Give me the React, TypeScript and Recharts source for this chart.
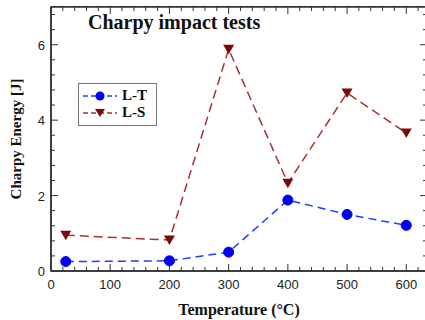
import { LineChart, Line, XAxis, YAxis, ReferenceArea } from 'recharts';

const temperatures = [25, 200, 300, 400, 500, 600];
const ltEnergy = [0.25, 0.27, 0.5, 1.88, 1.5, 1.21];
const lsEnergy = [0.95, 0.82, 5.88, 2.33, 4.72, 3.66];

const xTicks = Array.from({ length: 32 }, (_, i) => i * 20);
const yTicks = Array.from({ length: 18 }, (_, i) => Math.round(i * 4) / 10);
const xLabels = [0, 100, 200, 300, 400, 500, 600];
const yLabels = [0, 2, 4, 6];

const LT_COLOR = '#1f3cff';
const LT_MARKER = '#0000ee';
const LS_COLOR = '#a83232';
const LS_MARKER = '#7a0a0a';
const AXIS = '#333';

// chart layout (plot box = 51..427 x 7..271)
const CHART_W = 428;
const CHART_H = 320;
const MARGIN = { top: 7, right: 1, left: 0, bottom: 0 };
const X_AXIS_H = 49;
const Y_AXIS_W = 51;
const PLOT_W = CHART_W - MARGIN.right - Y_AXIS_W;
const PLOT_H = CHART_H - MARGIN.top - X_AXIS_H;

const data = temperatures.map((t, i) => ({ t, lt: ltEnergy[i], ls: lsEnergy[i] }));

const tickFont = { fontFamily: 'Liberation Sans, Arial, sans-serif', fontSize: 13, fill: '#222' };
const serif = 'Liberation Serif, Times New Roman, serif';

// bottom ticks point up; mirrored ticks are drawn on the top frame edge
const BottomTick = ({ x, y, payload }: any) => {
  const major = xLabels.includes(payload.value);
  const len = major ? 7 : 4;
  return (
    <g>
      <line x1={x} y1={y} x2={x} y2={y - len} stroke={AXIS} strokeWidth={1} />
      <line x1={x} y1={y - PLOT_H} x2={x} y2={y - PLOT_H + len} stroke={AXIS} strokeWidth={1} />
      {major && (
        <text x={x} y={y + 18} textAnchor="middle" {...tickFont}>{payload.value}</text>
      )}
    </g>
  );
};

const LeftTick = ({ x, y, payload }: any) => {
  const major = yLabels.includes(payload.value);
  const len = major ? 7 : 4;
  return (
    <g>
      <line x1={x} y1={y} x2={x + len} y2={y} stroke={AXIS} strokeWidth={1} />
      <line x1={x + PLOT_W} y1={y} x2={x + PLOT_W - len} y2={y} stroke={AXIS} strokeWidth={1} />
      {major && (
        <text x={x - 6} y={y + 5} textAnchor="end" {...tickFont}>{payload.value}</text>
      )}
    </g>
  );
};

const CircleDot = ({ cx, cy }: any) => (
  <circle cx={cx} cy={cy} r={5} fill={LT_MARKER} stroke={LT_MARKER} />
);

const TriangleDot = ({ cx, cy }: any) => (
  <polygon
    points={`${cx - 5.5},${cy - 4.5} ${cx + 5.5},${cy - 4.5} ${cx},${cy + 5}`}
    fill={LS_MARKER}
  />
);

const series = [
  { name: 'L-T', color: LT_COLOR, marker: 'circle' },
  { name: 'L-S', color: LS_COLOR, marker: 'triangle' },
];

export default function App() {
  return (
    <div
      style={{
        position: 'absolute',
        left: 0,
        top: 0,
        width: 425,
        height: 320,
        background: '#fff',
        overflow: 'hidden',
      }}
    >
      <LineChart width={CHART_W} height={CHART_H} data={data} margin={MARGIN}>
        <XAxis
          dataKey="t"
          type="number"
          domain={[0, 635]}
          ticks={xTicks}
          interval={0}
          height={X_AXIS_H}
          tickSize={0}
          tickMargin={0}
          tick={<BottomTick />}
          tickLine={false}
          axisLine={{ stroke: AXIS, strokeWidth: 1.5 }}
          label={{
            value: 'Temperature (°C)',
            position: 'insideBottom',
            offset: 5,
            style: { fontFamily: serif, fontWeight: 'bold', fontSize: 16, fill: '#111' },
          }}
        />
        <YAxis
          type="number"
          domain={[0, 7]}
          ticks={yTicks}
          interval={0}
          width={Y_AXIS_W}
          tickSize={0}
          tickMargin={0}
          tick={<LeftTick />}
          tickLine={false}
          axisLine={{ stroke: AXIS, strokeWidth: 1.5 }}
          label={{
            value: 'Charpy Energy [J]',
            angle: -90,
            position: 'insideLeft',
            offset: 16,
            style: { textAnchor: 'middle', fontFamily: serif, fontWeight: 'bold', fontSize: 15, fill: '#111' },
          }}
        />
        {/* plot frame */}
        <ReferenceArea
          x1={0}
          x2={635}
          y1={0}
          y2={7}
          fill="none"
          stroke={AXIS}
          strokeWidth={1.5}
          ifOverflow="visible"
        />
        <Line
          dataKey="lt"
          name="L-T"
          stroke={LT_COLOR}
          strokeWidth={1.5}
          strokeDasharray="8 5"
          dot={<CircleDot />}
          isAnimationActive={false}
        />
        <Line
          dataKey="ls"
          name="L-S"
          stroke={LS_COLOR}
          strokeWidth={1.5}
          strokeDasharray="9 5"
          dot={<TriangleDot />}
          isAnimationActive={false}
        />
      </LineChart>

      {/* top edge of the frame */}
      <div
        style={{
          position: 'absolute',
          left: Y_AXIS_W,
          top: MARGIN.top - 1,
          width: PLOT_W,
          height: 0,
          borderTop: `1.5px solid ${AXIS}`,
        }}
      />

      <div
        style={{
          position: 'absolute',
          left: 88,
          top: 11,
          fontFamily: serif,
          fontWeight: 'bold',
          fontSize: 20,
          color: '#111',
          whiteSpace: 'nowrap',
        }}
      >
        Charpy impact tests
      </div>

      <div
        style={{
          position: 'absolute',
          left: 78,
          top: 83,
          width: 79,
          height: 43,
          border: '1px solid #777',
          background: '#fff',
          boxSizing: 'border-box',
          padding: '3px 0 0 3px',
        }}
      >
        {series.map((s) => (
          <div key={s.name} style={{ display: 'flex', alignItems: 'center', height: 17 }}>
            <svg width={36} height={14}>
              <line x1={1} y1={7} x2={35} y2={7} stroke={s.color} strokeWidth={1.5} strokeDasharray="5 3" />
              {s.marker === 'circle' ? (
                <circle cx={18} cy={7} r={4.5} fill={LT_MARKER} />
              ) : (
                <polygon points="13,3 23,3 18,11" fill={LS_MARKER} />
              )}
            </svg>
            <span style={{ fontFamily: serif, fontWeight: 'bold', fontSize: 15, color: '#111', marginLeft: 4 }}>
              {s.name}
            </span>
          </div>
        ))}
      </div>
    </div>
  );
}
